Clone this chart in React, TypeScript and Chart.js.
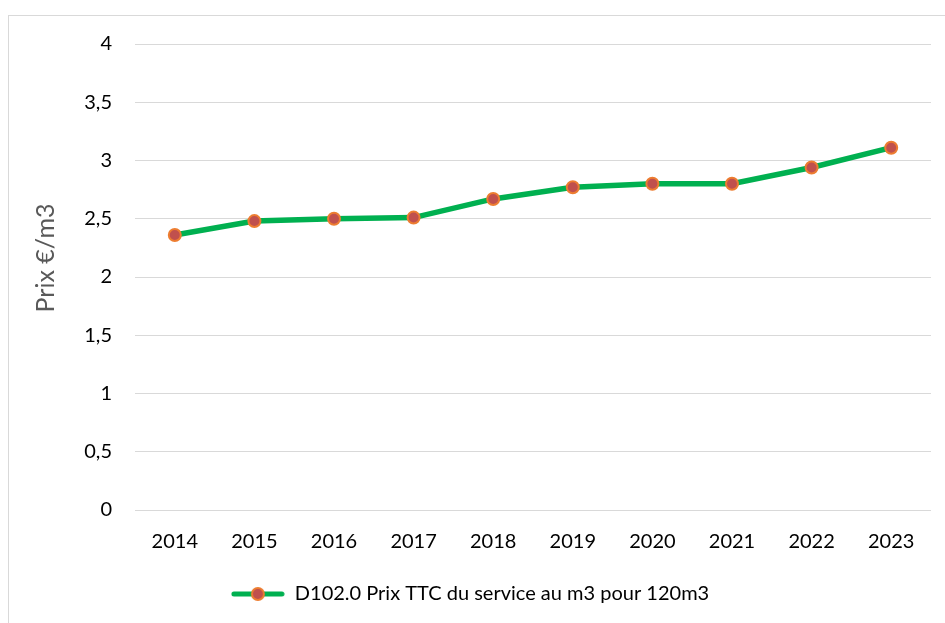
import React, { useEffect, useRef } from "react";
import { Chart, registerables } from "chart.js";

Chart.register(...registerables);

const years = ["2014", "2015", "2016", "2017", "2018", "2019", "2020", "2021", "2022", "2023"];
const prices = [2.36, 2.48, 2.5, 2.51, 2.67, 2.77, 2.8, 2.8, 2.94, 3.11];
const seriesLabel = "D102.0 Prix TTC du service au m3 pour 120m3";
const yAxisTitle = "Prix €/m3";

const LINE = "#00B050";
const MARKER_FILL = "#C0504D";
const MARKER_BORDER = "#ED7D31";
const FONT = "Lato";

function makeLegendIcon(): HTMLCanvasElement {
  const c = document.createElement("canvas");
  c.width = 54;
  c.height = 16;
  const ctx = c.getContext("2d")!;
  ctx.strokeStyle = LINE;
  ctx.lineWidth = 5;
  ctx.lineCap = "round";
  ctx.beginPath();
  ctx.moveTo(3, 8);
  ctx.lineTo(51, 8);
  ctx.stroke();
  ctx.beginPath();
  ctx.arc(27, 8, 6, 0, Math.PI * 2);
  ctx.fillStyle = MARKER_FILL;
  ctx.fill();
  ctx.lineWidth = 2;
  ctx.strokeStyle = MARKER_BORDER;
  ctx.stroke();
  return c;
}

const yTitlePlugin = {
  id: "yTitle",
  afterDraw(chart: any) {
    const { ctx, chartArea } = chart;
    ctx.save();
    ctx.font = `25px ${FONT}`;
    ctx.fillStyle = "#595959";
    ctx.textAlign = "center";
    ctx.textBaseline = "middle";
    ctx.translate(37, (chartArea.top + chartArea.bottom) / 2 - 19);
    ctx.rotate(-Math.PI / 2);
    ctx.fillText(yAxisTitle, 0, 0);
    ctx.restore();
  },
};

export default function App() {
  const ref = useRef<HTMLCanvasElement>(null);
  useEffect(() => {
    if (!ref.current) return;
    const icon = makeLegendIcon();
    const chart = new Chart(ref.current, {
      type: "line",
      data: {
        labels: years,
        datasets: [
          {
            label: seriesLabel,
            data: prices,
            borderColor: LINE,
            borderWidth: 5.5,
            pointRadius: 6,
            pointHoverRadius: 6,
            pointBackgroundColor: MARKER_FILL,
            pointBorderColor: MARKER_BORDER,
            pointBorderWidth: 2,
            tension: 0,
            fill: false,
          },
        ],
      },
      plugins: [yTitlePlugin],
      options: {
        animation: false,
        responsive: true,
        maintainAspectRatio: false,
        layout: { padding: { top: 15, right: 14, bottom: 9, left: 0 } },
        plugins: {
          tooltip: { enabled: false },
          legend: {
            position: "bottom",
            labels: {
              usePointStyle: true,
              pointStyle: icon as any,
              pointStyleWidth: 54,
              color: "#000",
              font: { family: FONT, size: 20 },
              padding: 10,
              generateLabels: () => [
                {
                  text: seriesLabel,
                  pointStyle: icon as any,
                  fillStyle: MARKER_FILL,
                  strokeStyle: MARKER_BORDER,
                  lineWidth: 0,
                  hidden: false,
                  datasetIndex: 0,
                  fontColor: "#000",
                } as any,
              ],
            },
          },
        },
        scales: {
          x: {
            offset: true,
            grid: { display: false, drawTicks: false },
            border: { display: false },
            ticks: { color: "#000", font: { family: FONT, size: 20 }, padding: 20, maxRotation: 0 },
            afterFit: (s: any) => {
              s.height = 64;
            },
          },
          y: {
            min: 0,
            max: 4,
            grid: { color: "#d9d9d9", lineWidth: 1, drawTicks: false },
            border: { display: false },
            ticks: {
              stepSize: 0.5,
              color: "#000",
              font: { family: FONT, size: 20 },
              padding: 23,
              callback: (v: any) => String(v).replace(".", ","),
            },
            title: { display: false },
            afterFit: (s: any) => {
              s.width = 126;
            },
          },
        },
      },
    });
    return () => chart.destroy();
  }, []);

  return (
    <div
      style={{
        position: "absolute",
        left: 8,
        top: 15,
        width: 945,
        height: 620,
        border: "1px solid #d9d9d9",
        boxSizing: "border-box",
        background: "#fff",
      }}
    >
      <div style={{ position: "absolute", left: 0, top: -7, width: 936, height: 614 }}>
        <canvas ref={ref} />
      </div>
    </div>
  );
}
